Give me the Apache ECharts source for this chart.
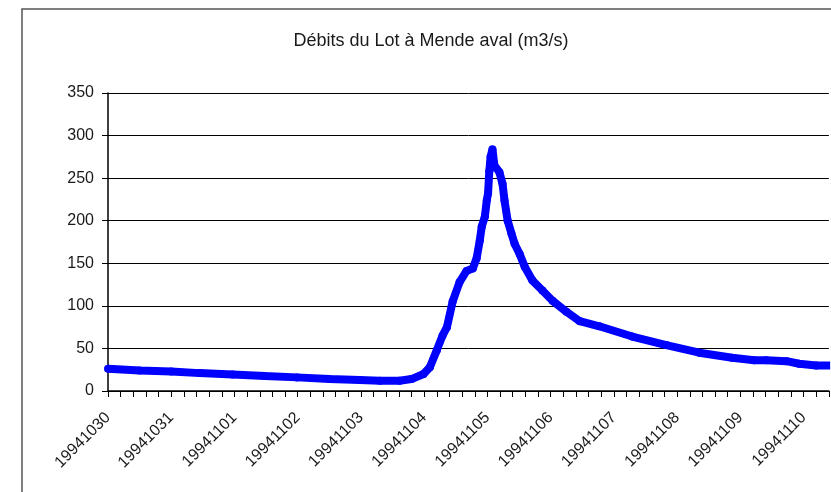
<!DOCTYPE html>
<html>
<head>
<meta charset="utf-8">
<script src="https://cdn.jsdelivr.net/npm/echarts@6/dist/echarts.min.js"></script>
<style>
  html, body { margin: 0; padding: 0; background: #fff; }
  #chart { width: 831px; height: 492px; }
</style>
</head>
<body>
<div id="chart"></div>
<script>
// jours depuis le 30/10/1994 00h
const days = [0, 0.5, 1, 1.45, 1.97, 2.48, 2.99, 3.5, 3.98, 4.3, 4.61, 4.8, 4.99, 5.09, 5.2, 5.29, 5.36, 5.45,
  5.56, 5.67, 5.77, 5.83, 5.88, 5.91, 5.96, 5.99, 6.01, 6.03, 6.05, 6.08, 6.11, 6.19, 6.24, 6.27, 6.32,
  6.38, 6.43, 6.51, 6.59, 6.71, 6.87, 7.03, 7.25, 7.46, 7.77, 8.29, 8.83, 9.35, 9.87, 10.22, 10.41,
  10.73, 10.93, 11.2, 11.42]
// débits (m3/s)
const debits = [26, 24, 23, 21, 19.5, 17.5, 16, 14, 13, 12, 12, 14, 20, 28, 48, 65, 75, 105,
  128, 141, 144, 156, 177, 193, 205, 224, 232, 258, 275, 284, 265, 257, 243, 224, 200,
  185, 173, 161, 146, 130, 118, 106, 93, 82, 76, 64, 54, 45, 39, 36, 36,
  35, 32, 30, 30]
// étiquettes des jours
const dayLabels = ['19941030', '19941031', '19941101', '19941102', '19941103', '19941104',
  '19941105', '19941106', '19941107', '19941108', '19941109', '19941110']

const chart = echarts.init(document.getElementById('chart'))

const seriesData = days.map((d, i) => [d, debits[i]])

chart.setOption({
  animation: false,
  backgroundColor: '#fff',
  textStyle: { fontFamily: 'Liberation Sans, Arial, sans-serif' },
  graphic: [{
    type: 'rect',
    shape: { x: 22, y: 9, width: 900, height: 600 },
    style: { fill: 'none', stroke: '#555', lineWidth: 1.5 },
    silent: true
  }],
  title: {
    text: 'Débits du Lot à Mende aval (m3/s)',
    left: 426,
    top: 27,
    textAlign: 'center',
    textStyle: { fontSize: 18, fontWeight: 'normal', color: '#1a1a1a' }
  },
  grid: {
    left: 108,
    right: 0,
    top: 93,
    bottom: 101
  },
  xAxis: {
    type: 'value',
    min: 0,
    max: 11.4,
    interval: 0.2,
    axisLine: { show: true, onZero: false, lineStyle: { color: '#000', width: 1.5 } },
    axisTick: { show: true, length: 6, lineStyle: { color: '#000' } },
    splitLine: { show: false },
    axisLabel: {
      rotate: 45,
      margin: 24,
      color: '#1a1a1a',
      fontSize: 16,
      formatter: v => {
        const r = Math.round(v)
        return Math.abs(v - r) < 1e-6 ? (dayLabels[r] || '') : ''
      }
    }
  },
  yAxis: {
    type: 'value',
    min: 0,
    max: 350,
    interval: 50,
    axisLine: { show: true, lineStyle: { color: '#000', width: 1.5 } },
    axisTick: { show: true, length: 6, lineStyle: { color: '#000' } },
    splitLine: { show: true, lineStyle: { color: '#000', width: 1 } },
    axisLabel: { color: '#1a1a1a', fontSize: 16, margin: 14 }
  },
  series: [{
    type: 'line',
    data: seriesData,
    symbol: 'circle',
    symbolSize: 8,
    showAllSymbol: true,
    itemStyle: { color: '#0000ff' },
    lineStyle: { color: '#0000ff', width: 8 }
  }]
})
</script>
</body>
</html>
